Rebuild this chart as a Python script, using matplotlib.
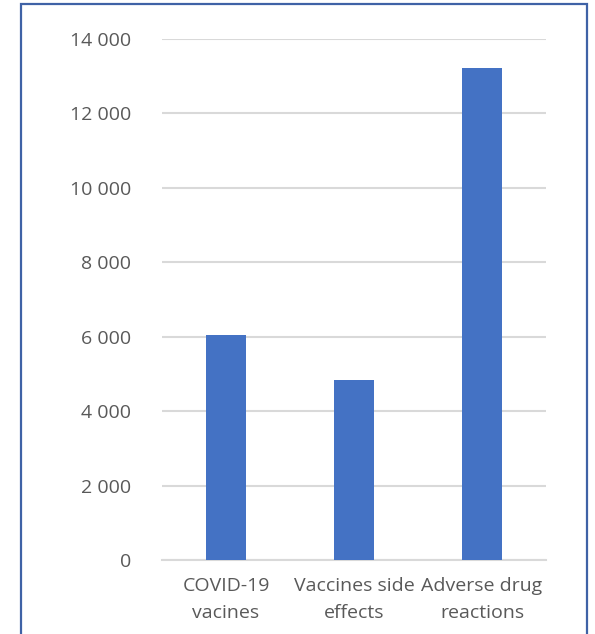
import matplotlib
matplotlib.use('Agg')
import matplotlib.pyplot as plt
import matplotlib.patches as mpatches
import matplotlib.ticker as ticker

categories = ['COVID-19\nvacines', 'Vaccines side\neffects', 'Adverse drug\nreactions']
counts = [6040, 4830, 13210]
yticks = [0, 2000, 4000, 6000, 8000, 10000, 12000, 14000]

W, H = 595, 634
fig = plt.figure(figsize=(W / 100, H / 100), dpi=100)
fig.patch.set_facecolor('white')

ax = fig.add_axes([162 / W, 1 - 560 / H, (546 - 162) / W, (560 - 39) / H])
x = range(len(categories))
ax.bar(x, counts, width=0.31, color='#4472C4', zorder=3)

ax.set_ylim(0, 14000)
ax.set_xlim(-0.5, 2.5)
ax.set_yticks(yticks)
ax.yaxis.set_major_formatter(ticker.FuncFormatter(lambda v, p: f"{int(v):,}".replace(',', ' ')))
ax.set_xticks(list(x))
ax.set_xticklabels(categories, linespacing=1.65)

ax.grid(axis='y', color='#D9D9D9', linewidth=1.5, zorder=0)
for s in ['top', 'right', 'left']:
    ax.spines[s].set_visible(False)
ax.spines['bottom'].set_color('#D9D9D9')
ax.spines['bottom'].set_linewidth(1.5)
ax.tick_params(length=0, labelsize=14, labelcolor='#595959')
ax.tick_params(axis='y', pad=22)
ax.tick_params(axis='x', pad=12)
for lab in ax.get_xticklabels() + ax.get_yticklabels():
    lab.set_family('Open Sans')

# outer frame, open at the bottom edge
frame = mpatches.Rectangle((21 / W, -0.05), (587 - 21) / W, 1 - 4 / H + 0.05,
                           transform=fig.transFigure, fill=False,
                           edgecolor='#3F62A6', linewidth=1.6)
fig.patches.append(frame)

plt.savefig('out.png', dpi=100, facecolor='white')
